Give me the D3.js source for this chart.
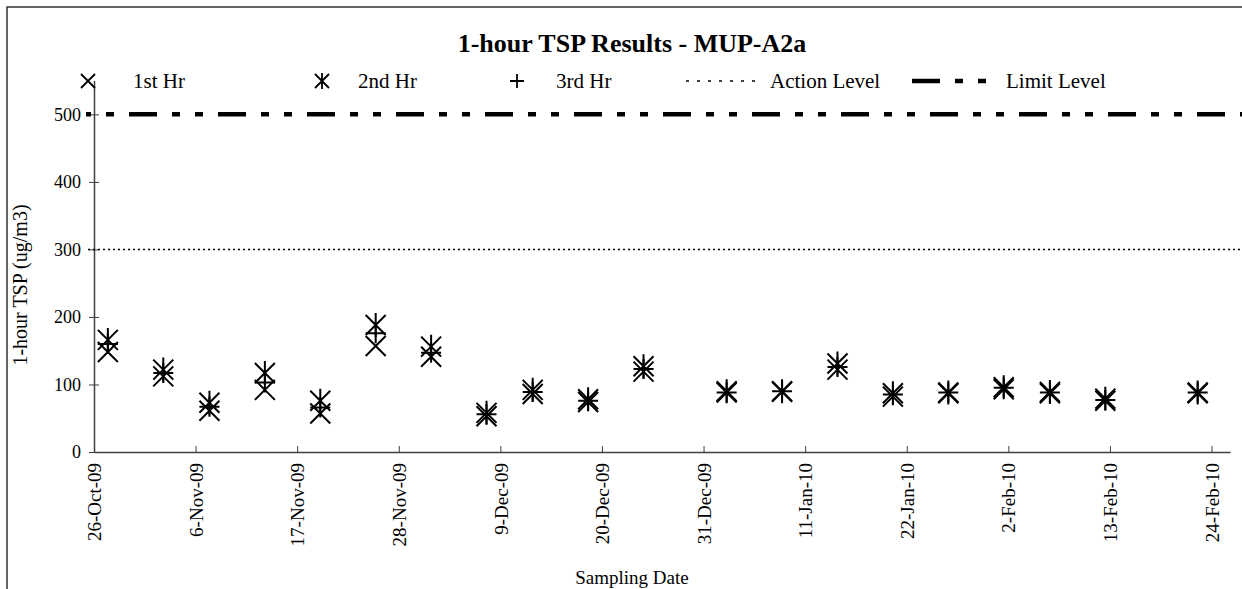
<!DOCTYPE html>
<html>
<head>
<meta charset="utf-8">
<script src="https://cdn.jsdelivr.net/npm/d3@7"></script>
<style>
  body { margin: 0; background: #fff; }
  svg text { font-family: "Liberation Serif", "DejaVu Serif", serif; fill: #000; }
</style>
</head>
<body>
<svg width="1242" height="589"></svg>
<script>
// sampling dates and readings (ug/m3)
let dates = ['27-Oct-09','2-Nov-09','7-Nov-09','13-Nov-09','19-Nov-09','25-Nov-09','1-Dec-09',
  '7-Dec-09','12-Dec-09','18-Dec-09','24-Dec-09','2-Jan-10','8-Jan-10','14-Jan-10','20-Jan-10',
  '26-Jan-10','1-Feb-10','6-Feb-10','12-Feb-10','22-Feb-10']
let hr1 = [148, 112, 61, 92, 57, 157, 141, 53, 86, 74, 119, 88, 89, 122, 82, 87, 93, 87, 76, 87]
let hr2 = [166, 122, 73, 117, 76, 188, 156, 58, 92, 78, 127, 90, 90, 131, 87, 88, 96, 89, 79, 88]
let hr3 = [160, 117, 67, 103, 66, 176, 147, 56, 89, 76, 123, 88, 90, 126, 85, 88, 95, 88, 77, 88]

let actionLevel = 300
let limitLevel = 500

let xTickLabels = ['26-Oct-09','6-Nov-09','17-Nov-09','28-Nov-09','9-Dec-09','20-Dec-09',
  '31-Dec-09','11-Jan-10','22-Jan-10','2-Feb-10','13-Feb-10','24-Feb-10']
let yTicks = [0, 100, 200, 300, 400, 500]

let parse = d3.timeParse('%d-%b-%y')
let fmt = d3.timeFormat('%-d-%b-%y')

var svg = d3.select('svg')

// frame
svg.append('rect')
  .attr('x', 7).attr('y', 7).attr('width', 1250).attr('height', 600)
  .attr('fill', 'none').attr('stroke', '#333').attr('stroke-width', 1.5)

let x = d3.scaleTime()
  .domain([parse('26-Oct-09'), parse('26-Feb-10')])
  .range([94, 1230])
let y = d3.scaleLinear().domain([0, 550]).range([452, 80.6])

// points sit in the middle of their day
let px = (d) => x(d3.timeHour.offset(parse(d), 12))

// axes
let xAxis = d3.axisBottom(x)
  .tickValues(xTickLabels.map(parse))
  .tickFormat(fmt)
  .tickSizeInner(-6).tickSizeOuter(0)
let gx = svg.append('g').attr('transform', 'translate(0,' + y(0) + ')').call(xAxis)
gx.select('.domain').attr('stroke', '#404040').attr('stroke-width', 1.5)
gx.selectAll('.tick line').attr('stroke', '#404040')
gx.selectAll('.tick text')
  .attr('font-size', 19)
  .attr('transform', 'rotate(-90)')
  .attr('text-anchor', 'end')
  .attr('x', -11).attr('y', 0).attr('dy', '0.35em')

let yAxis = d3.axisLeft(y).tickValues(yTicks).tickSizeInner(5).tickSizeOuter(0).tickPadding(8)
let gy = svg.append('g').attr('transform', 'translate(94,0)').call(yAxis)
gy.select('.domain').attr('stroke', '#404040').attr('stroke-width', 1.5)
gy.selectAll('.tick line').attr('stroke', '#404040').attr('x1', -5).attr('x2', 5)
gy.selectAll('.tick text').attr('font-size', 18)

// levels
svg.append('line')
  .attr('x1', 88).attr('x2', 1240)
  .attr('y1', y(actionLevel)).attr('y2', y(actionLevel))
  .attr('stroke', '#000').attr('stroke-width', 1.5).attr('stroke-dasharray', '2,3')
svg.append('line')
  .attr('x1', 86).attr('x2', 1242)
  .attr('y1', y(limitLevel)).attr('y2', y(limitLevel))
  .attr('stroke', '#000').attr('stroke-width', 4.5)
  .attr('stroke-dasharray', '28,15,8,15,8,15').attr('stroke-dashoffset', 46)

// marker paths
let crossPath = (s) => `M${-s},${-s}L${s},${s}M${-s},${s}L${s},${-s}`
let starPath = (s, v) => crossPath(s) + `M0,${-v}L0,${v}`
let plusPath = (s) => `M${-s},0L${s},0M0,${-s}L0,${s}`

let drawSeries = (vals, d) => {
  svg.append('g').selectAll('path')
    .data(dates)
    .enter()
    .append('path')
    .attr('transform', (dt, i) => 'translate(' + px(dt) + ',' + y(vals[i]) + ')')
    .attr('d', d)
    .attr('fill', 'none').attr('stroke', '#000').attr('stroke-width', 2)
}
drawSeries(hr1, crossPath(10))
drawSeries(hr2, starPath(10, 12))
drawSeries(hr3, plusPath(10))

// legend
let ly = 81
let leg = svg.append('g')
leg.append('path').attr('d', crossPath(7)).attr('transform', `translate(88,${ly})`)
  .attr('stroke', '#000').attr('stroke-width', 1.8).attr('fill', 'none')
leg.append('path').attr('d', starPath(7, 8)).attr('transform', `translate(322,${ly})`)
  .attr('stroke', '#000').attr('stroke-width', 1.8).attr('fill', 'none')
leg.append('path').attr('d', plusPath(7)).attr('transform', `translate(517,${ly})`)
  .attr('stroke', '#000').attr('stroke-width', 1.8).attr('fill', 'none')
leg.append('line').attr('x1', 686).attr('x2', 762).attr('y1', ly).attr('y2', ly)
  .attr('stroke', '#000').attr('stroke-width', 1.5).attr('stroke-dasharray', '3,8')
leg.append('line').attr('x1', 912).attr('x2', 1000).attr('y1', ly).attr('y2', ly)
  .attr('stroke', '#000').attr('stroke-width', 4.5).attr('stroke-dasharray', '28,15,8,15,8,15')

let legText = [['1st Hr', 133], ['2nd Hr', 358], ['3rd Hr', 556], ['Action Level', 770], ['Limit Level', 1006]]
leg.selectAll('text').data(legText).enter().append('text')
  .attr('x', (d) => d[1]).attr('y', ly).attr('dy', '0.35em')
  .attr('font-size', 21).text((d) => d[0])

// titles
svg.append('text').attr('x', 632).attr('y', 52).attr('text-anchor', 'middle')
  .attr('font-size', 26).attr('font-weight', 'bold').text('1-hour TSP Results - MUP-A2a')
svg.append('text').attr('x', 632).attr('y', 584).attr('text-anchor', 'middle')
  .attr('font-size', 19).text('Sampling Date')
svg.append('text').attr('transform', 'translate(27,285) rotate(-90)').attr('text-anchor', 'middle')
  .attr('font-size', 20).text('1-hour TSP (ug/m3)')
</script>
</body>
</html>
